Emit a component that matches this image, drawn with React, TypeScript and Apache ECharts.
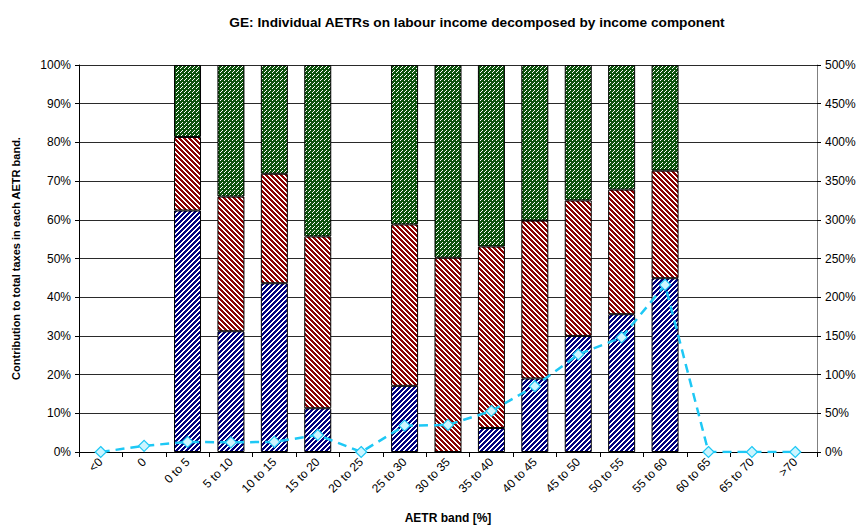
import React, { useEffect, useRef } from "react";
import * as echarts from "echarts";

const categories = ["<0", "0", "0 to 5", "5 to 10", "10 to 15", "15 to 20", "20 to 25", "25 to 30", "30 to 35", "35 to 40", "40 to 45", "45 to 50", "50 to 55", "55 to 60", "60 to 65", "65 to 70", ">70"];
const leftTicks = ["0%", "10%", "20%", "30%", "40%", "50%", "60%", "70%", "80%", "90%", "100%"];
const blueShare = [null, null, 62.4, 31.2, 43.6, 11.3, null, 17.1, 0, 6.2, 19.0, 30.0, 35.6, 44.9, null, null, null];
const redShare = [null, null, 19.0, 34.8, 28.3, 44.4, null, 41.7, 50.2, 46.9, 40.8, 35.0, 32.2, 27.8, null, null, null];
const greenShare = [null, null, 18.6, 34.0, 28.1, 44.3, null, 41.2, 49.8, 46.9, 40.2, 35.0, 32.2, 27.3, null, null, null];
const aetrLine = [0, 8, 13, 12.5, 13, 22, 0, 34, 35, 53, 85, 126, 148, 216, 0, 0, 0];

function makeTile(size: number, fg: string, bg: string, test: (x: number, y: number) => boolean) {
  const c = document.createElement("canvas");
  c.width = size;
  c.height = size;
  const ctx = c.getContext("2d")!;
  ctx.fillStyle = bg;
  ctx.fillRect(0, 0, size, size);
  ctx.fillStyle = fg;
  for (let y = 0; y < size; y++) {
    for (let x = 0; x < size; x++) {
      if (test(x, y)) ctx.fillRect(x, y, 1, 1);
    }
  }
  return c;
}

export default function App() {
  const ref = useRef<HTMLDivElement>(null);
  useEffect(() => {
    if (!ref.current) return;
    const chart = echarts.init(ref.current, null, { renderer: "svg" });
    const blueTile = makeTile(5, "#000080", "#ffffff", (x, y) => (x + y) % 5 < 3);
    const redTile = makeTile(5, "#8b0000", "#ffffff", (x, y) => ((x - y) % 5 + 5) % 5 < 3);
    const greenTile = makeTile(4, "#0d520d", "#ffffff", (x, y) => !((x + y) % 4 === 0 && (y % 2 === 0 || x % 4 === 1)));
    const font = "'Liberation Sans', Arial, sans-serif";
    const barBase = {
      type: "bar" as const,
      stack: "s",
      barWidth: 27,
      yAxisIndex: 0,
    };
    chart.setOption({
      animation: false,
      textStyle: { fontFamily: font },
      title: {
        text: "GE: Individual AETRs on labour income decomposed by income component",
        left: 472,
        textAlign: "center",
        top: 10,
        textStyle: { fontFamily: font, fontSize: 13.7, fontWeight: "bold", color: "#000" },
      },
      grid: { left: 79, right: 42, top: 65, bottom: 76 },
      xAxis: {
        type: "category",
        data: categories,
        name: "AETR band [%]",
        nameLocation: "middle",
        nameGap: 60,
        nameTextStyle: { fontFamily: font, fontSize: 12, fontWeight: "bold", color: "#000" },
        axisLine: { lineStyle: { color: "#000", width: 1 } },
        axisTick: { show: true, length: 5, lineStyle: { color: "#000" } },
        axisLabel: { rotate: 45, interval: 0, fontSize: 12, color: "#000", margin: 8, fontFamily: font },
      },
      yAxis: [
        {
          type: "value",
          min: 0,
          max: 100,
          interval: 10,
          name: "Contribution to total taxes in each AETR band.",
          nameLocation: "middle",
          nameGap: 58,
          nameTextStyle: { fontFamily: font, fontSize: 11, fontWeight: "bold", color: "#000" },
          axisLine: { show: true, lineStyle: { color: "#000" } },
          axisTick: { show: true, length: 4, lineStyle: { color: "#000" } },
          axisLabel: { formatter: (v: number) => leftTicks[Math.round(v / 10)], fontSize: 12, color: "#000", margin: 8, fontFamily: font },
          splitLine: { show: true, lineStyle: { color: "#2a2a2a", width: 1 } },
        },
        {
          type: "value",
          min: 0,
          max: 500,
          interval: 50,
          position: "right",
          axisLine: { show: true, lineStyle: { color: "#808080" } },
          axisTick: { show: true, length: 4, lineStyle: { color: "#000" } },
          axisLabel: { formatter: "{value}%", fontSize: 12, color: "#000", margin: 8, fontFamily: font },
          splitLine: { show: false },
        },
      ],
      series: [
        {
          ...barBase,
          name: "blue",
          data: blueShare,
          itemStyle: { color: { image: blueTile, repeat: "repeat" }, borderColor: "#000", borderWidth: 1 },
        },
        {
          ...barBase,
          name: "red",
          data: redShare,
          itemStyle: { color: { image: redTile, repeat: "repeat" }, borderColor: "#000", borderWidth: 1 },
        },
        {
          ...barBase,
          name: "green",
          data: greenShare,
          itemStyle: { color: { image: greenTile, repeat: "repeat" }, borderColor: "#000", borderWidth: 1 },
        },
        {
          type: "line",
          name: "AETR",
          yAxisIndex: 1,
          data: aetrLine,
          symbol: "diamond",
          symbolSize: 11,
          lineStyle: { color: "#1ec8f5", width: 2.5, type: [9, 6] },
          itemStyle: { color: "#ccf5ff", borderColor: "#1ec8f5", borderWidth: 1.2 },
          z: 5,
        },
      ],
    });
    return () => chart.dispose();
  }, []);
  return <div ref={ref} style={{ position: "fixed", left: 0, top: 0, width: 859, height: 529, background: "#fff" }} />;
}
